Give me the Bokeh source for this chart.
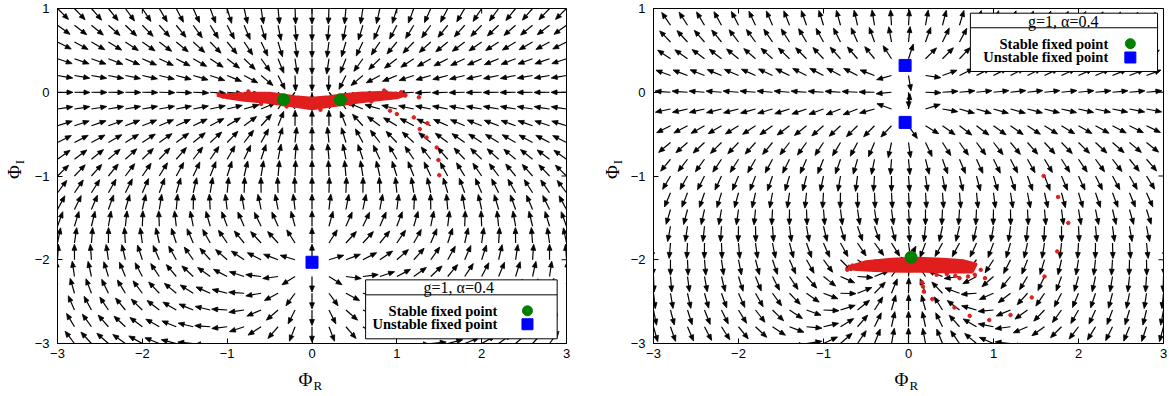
import numpy as np
from bokeh.plotting import figure
from bokeh.layouts import row, column
from bokeh.models import Range1d, FixedTicker
from bokeh.core.properties import value
from bokeh.embed import file_html
from bokeh.resources import INLINE

# ---------------- data ----------------
x_ticks = [-3, -2, -1, 0, 1, 2, 3]
y_ticks = [-3, -2, -1, 0, 1]
legend_title = "g=1, \u03b1=0.4"
legend_labels = ["Stable fixed point", "Unstable fixed point"]
x_title = ("\u03a6", "R")
y_title = ("\u03a6", "I")

# vector-field sampling grid
grid_x = np.round(np.linspace(-3, 3, 31), 3)
grid_y = np.round(np.linspace(-3, 1, 21), 3)

# left panel: fixed points
left_stable_x = [-0.335, 0.335]
left_stable_y = [-0.09, -0.09]
left_unstable_x = [0.0]
left_unstable_y = [-2.03]
# further zero / pole of the drift and vertical stiffness, estimated from arrow directions
left_extra_zero_x = [0.0]
left_extra_zero_y = [2.12]
left_pole_x = [0.0]
left_pole_y = [-0.10]
left_sign = -1.0
left_stiffness = 1.0

# right panel
right_stable_x = [0.03]
right_stable_y = [-1.97]
right_unstable_x = [-0.04, -0.04]
right_unstable_y = [0.32, -0.36]
right_extra_zero_x = [0.0]
right_extra_zero_y = [1.8]
right_pole_x = [0.0]
right_pole_y = [-0.02]
right_sign = 1.0
right_stiffness = 1.7

# red sample clouds (outline of dense band + single dots)
left_band_x = [-1.12, -0.9, -0.7, -0.5, -0.35, -0.2, 0.0, 0.2, 0.35, 0.55, 0.8, 1.0, 1.12,
               1.0, 0.8, 0.55, 0.35, 0.2, 0.0, -0.2, -0.35, -0.55, -0.8, -1.0]
left_band_y = [-0.04, -0.02, -0.01, -0.01, -0.03, -0.05, -0.07, -0.05, -0.03, -0.01, -0.0, -0.01, -0.03,
               -0.07, -0.09, -0.12, -0.15, -0.17, -0.2, -0.17, -0.15, -0.12, -0.1, -0.07]
left_dots_x = [-1.1, -1.05, -0.98, -0.92, -0.86, 1.05, 1.1, 1.26, 0.92, 1.0, 1.2, 1.36, 1.27, 1.35, 1.47, 1.49, 1.5,
               -0.6, -0.3, 0.1, 0.45, 0.7, -0.75, 0.85]
left_dots_y = [-0.02, -0.05, -0.03, -0.06, -0.02, -0.0, -0.04, -0.06, -0.22, -0.26, -0.3, -0.37, -0.44, -0.54, -0.66, -0.81, -0.99,
               -0.14, -0.17, -0.21, -0.14, -0.11, 0.01, 0.02]
right_band_x = [-0.7, -0.5, -0.2, 0.1, 0.4, 0.65, 0.8, 0.75, 0.5, 0.2, -0.1, -0.4, -0.6, -0.7]
right_band_y = [-2.08, -2.02, -1.99, -1.98, -1.99, -2.01, -2.05, -2.15, -2.15, -2.14, -2.14, -2.13, -2.12, -2.11]
right_dots_x = [-0.72, -0.66, 0.7, 0.78, 0.85, 0.9, 0.6, 0.55, 0.45, 0.33, 0.16, 0.17, 0.18, 0.28, 0.54, 0.72,
                0.95, 1.2, 1.45, 1.6, 1.75, 1.88, 1.76, 1.59]
right_dots_y = [-2.12, -2.07, -2.2, -2.18, -2.12, -2.22, -2.22, -2.19, -2.17, -2.18, -2.27, -2.32, -2.38, -2.47, -2.57, -2.67,
                -2.72, -2.66, -2.45, -2.2, -1.9, -1.56, -1.25, -1.0]

# ---------------- geometry / style ----------------
FRAME_H = 335
ARROW_PX = 15.5
HEAD_LEN = 6.0
HEAD_HALF = 2.4
TICK_PX = 5
SERIF = "Liberation Serif"
SANS = "Liberation Sans"
RED = "#e01e1e"
GREEN = "#008000"
BLUE = "#0000ff"


def drift(zx, zy, px, py, sign, stiff):
    X, Y = np.meshgrid(grid_x, grid_y)
    Z = X + 1j * Y
    K = sign * np.ones_like(Z)
    for a, b in zip(zx, zy):
        K = K * (Z - (a + 1j * b))
    for a, b in zip(px, py):
        K = K / (Z - (a + 1j * b))
    n = np.abs(K)
    return X.ravel(), Y.ravel(), (K.real / n).ravel(), (stiff * K.imag / n).ravel()


def arrow_geometry(X, Y, U, V, SX, SY):
    su, sv = U * SX, V * SY
    n = np.hypot(su, sv)
    ok = np.isfinite(n) & (n > 0)
    X, Y, su, sv, n = X[ok], Y[ok], su[ok], sv[ok], n[ok]
    ux, uy = su / n, sv / n
    tipx = X + ARROW_PX * ux / SX
    tipy = Y + ARROW_PX * uy / SY
    basex = tipx - HEAD_LEN * ux / SX
    basey = tipy - HEAD_LEN * uy / SY
    lx = basex - HEAD_HALF * uy / SX
    ly = basey + HEAD_HALF * ux / SY
    rx = basex + HEAD_HALF * uy / SX
    ry = basey - HEAD_HALF * ux / SY
    heads_x = [[a, b, c] for a, b, c in zip(tipx, lx, rx)]
    heads_y = [[a, b, c] for a, b, c in zip(tipy, ly, ry)]
    return X, Y, basex, basey, heads_x, heads_y


def blank(width, height):
    f = figure(width=width, height=height, x_range=Range1d(0, width), y_range=Range1d(0, height),
               x_axis_location=None, y_axis_location=None, output_backend="svg",
               toolbar_location=None, min_border=0, outline_line_color=None,
               background_fill_color="white", border_fill_color="white")
    f.xgrid.visible = False
    f.ygrid.visible = False
    return f


def y_title_strip(width, height, x_phi, y_mid):
    f = blank(width, height)
    f.text([x_phi], [y_mid], text=[y_title[0]], text_font=value(SERIF), text_font_size="19px",
           angle=np.pi / 2, text_align="right", text_baseline="middle", text_color="black")
    f.text([x_phi + 5], [y_mid + 1], text=[y_title[1]], text_font=value(SERIF), text_font_size="13px",
           angle=np.pi / 2, text_align="left", text_baseline="middle", text_color="black")
    return f


def x_title_strip(width, height, x_mid, y_phi):
    f = blank(width, height)
    f.text([x_mid], [y_phi], text=[x_title[0]], text_font=value(SERIF), text_font_size="19px",
           text_align="right", text_baseline="middle", text_color="black")
    f.text([x_mid + 1], [y_phi - 6], text=[x_title[1]], text_font=value(SERIF), text_font_size="13px",
           text_align="left", text_baseline="middle", text_color="black")
    return f


def panel(frame_w, border_left, border_right, zeros_x, zeros_y, poles_x, poles_y, sign, stiff,
          stable_x, stable_y, unstable_x, unstable_y,
          band_x, band_y, dots_x, dots_y, leg):
    SX = frame_w / 6.0
    SY = FRAME_H / 4.0
    p = figure(frame_width=frame_w, frame_height=FRAME_H,
               x_range=Range1d(-3, 3), y_range=Range1d(-3, 1),
               output_backend="svg", toolbar_location=None,
               min_border_left=border_left, min_border_right=border_right,
               min_border_top=8, min_border_bottom=25,
               background_fill_color="white", border_fill_color="white")
    p.xgrid.visible = False
    p.ygrid.visible = False
    p.outline_line_color = "black"
    p.outline_line_alpha = 1.0
    for ax, t in ((p.xaxis, x_ticks), (p.yaxis, y_ticks)):
        ax.ticker = FixedTicker(ticks=t)
        ax.major_tick_in = TICK_PX
        ax.major_tick_out = 0
        ax.minor_tick_line_color = None
        ax.axis_line_color = "black"
        ax.major_tick_line_color = "black"
        ax.major_label_text_font = SANS
        ax.major_label_text_font_size = "13px"
        ax.major_label_text_color = "black"
    p.xaxis.major_label_standoff = 5
    p.yaxis.major_label_standoff = 8

    # mirrored ticks on top and right edges
    p.segment(x_ticks, [1] * len(x_ticks), x_ticks, [1 - TICK_PX / SY] * len(x_ticks),
              line_color="black", line_width=1)
    p.segment([3] * len(y_ticks), y_ticks, [3 - TICK_PX / SX] * len(y_ticks), y_ticks,
              line_color="black", line_width=1)

    # vector field
    X, Y, U, V = drift(zeros_x, zeros_y, poles_x, poles_y, sign, stiff)
    X0, Y0, bx, by, hx, hy = arrow_geometry(X, Y, U, V, SX, SY)
    p.segment(X0, Y0, bx, by, line_color="black", line_width=1.2)
    p.patches(hx, hy, fill_color="black", line_color="black", line_width=0.8)

    # samples
    p.patch(band_x, band_y, fill_color=RED, line_color=RED, line_width=2.5)
    p.scatter(dots_x, dots_y, size=3.5, color=RED, marker="circle")

    # fixed points
    p.scatter(stable_x, stable_y, size=12, marker="circle", fill_color=GREEN, line_color=GREEN)
    p.scatter(unstable_x, unstable_y, size=12, marker="square", fill_color=BLUE, line_color=BLUE)

    # key box
    L, R, T, B, SEP, TX, TY, EX, E1, E2, MX = leg
    p.quad(left=[L], right=[R], top=[T], bottom=[B], fill_color="white", line_color="black", line_width=1)
    p.segment([L], [SEP], [R], [SEP], line_color="black", line_width=1)
    p.text([TX], [TY], text=[legend_title], text_font=value(SERIF), text_font_size="16px",
           text_align="center", text_baseline="middle", text_color="black")
    p.text([EX, EX], [E1, E2], text=legend_labels, text_font=value(SERIF), text_font_size="14.5px",
           text_font_style="bold", text_align="right", text_baseline="middle", text_color="black")
    p.scatter([MX], [E1], size=10, marker="circle", fill_color=GREEN, line_color=GREEN)
    p.scatter([MX], [E2], size=11, marker="square", fill_color=BLUE, line_color=BLUE)
    return p


left_leg = (0.632, 2.89, -2.24, -2.944, -2.419, 1.73, -2.33, 2.185, -2.61, -2.77, 2.54)
right_leg = (0.728, 2.93, 0.944, 0.248, 0.77, 1.82, 0.84, 2.35, 0.58, 0.415, 2.61)

p1 = panel(509, 27, 18,
           left_stable_x + left_unstable_x + left_extra_zero_x,
           left_stable_y + left_unstable_y + left_extra_zero_y,
           left_pole_x, left_pole_y, left_sign, left_stiffness,
           left_stable_x, left_stable_y, left_unstable_x, left_unstable_y,
           left_band_x, left_band_y, left_dots_x, left_dots_y, left_leg)
p2 = panel(510, 29, 6,
           right_stable_x + right_unstable_x + right_extra_zero_x,
           right_stable_y + right_unstable_y + right_extra_zero_y,
           right_pole_x, right_pole_y, right_sign, right_stiffness,
           right_stable_x, right_stable_y, right_unstable_x, right_unstable_y,
           right_band_x, right_band_y, right_dots_x, right_dots_y, right_leg)

ylab1 = y_title_strip(30, 368, 14, 368 - 172)
ylab2 = y_title_strip(40, 368, 28, 368 - 172)
xlab1 = x_title_strip(584, 28, 312, 17)
xlab2 = x_title_strip(585, 28, 324, 17)

layout = column(row(ylab1, p1, ylab2, p2), row(xlab1, xlab2))
open("out.html", "w").write(file_html(layout, INLINE))
